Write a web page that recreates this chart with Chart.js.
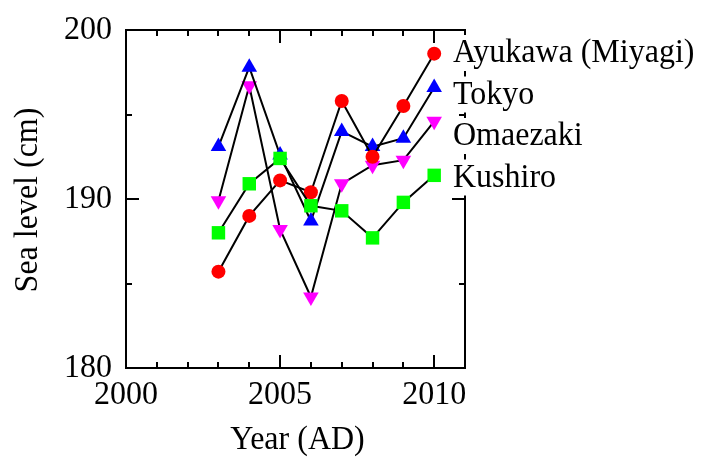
<!DOCTYPE html>
<html>
<head>
<meta charset="utf-8">
<script src="https://cdn.jsdelivr.net/npm/chart.js@4/dist/chart.umd.min.js"></script>
<style>
  html, body { margin: 0; padding: 0; background: #fff; }
  #wrap { width: 703px; height: 461px; }
</style>
</head>
<body>
<div id="wrap"><canvas id="c" width="703" height="461"></canvas></div>
<script>
// Annual mean sea level at four tide stations
const years    = [2003, 2004, 2005, 2006, 2007, 2008, 2009, 2010];
const ayukawa  = [185.7, 189.0, 191.1, 190.4, 195.8, 192.5, 195.5, 198.6];
const tokyo    = [193.1, 197.8, 192.6, 188.7, 194.0, 193.1, 193.6, 196.6];
const omaezaki = [189.9, 196.7, 188.2, 184.2, 190.9, 192.0, 192.3, 194.6];
const kushiro  = [188.0, 190.9, 192.4, 189.6, 189.3, 187.7, 189.8, 191.4];
const stationNames = ['Ayukawa (Miyagi)', 'Tokyo', 'Omaezaki', 'Kushiro'];
const xTickLabels = [2000, 2005, 2010];
const yTickLabels = [180, 190, 200];
const xTitle = 'Year (AD)';
const yTitle = 'Sea level (cm)';

const SERIF = "'Liberation Serif', 'Times New Roman', serif";
const FONT = '32px ' + SERIF;
const TALL = 1.08;   // slightly tall lettering

const toPoints = vals => years.map((yr, i) => ({ x: yr, y: vals[i] }));

function series(label, vals, style, color, radius, rotation, order) {
  return {
    label,
    data: toPoints(vals),
    borderColor: '#000',
    borderWidth: 2,
    pointStyle: style,
    pointRadius: radius,
    pointHoverRadius: radius,
    pointRotation: rotation,
    pointBackgroundColor: color,
    pointBorderWidth: 0,
    pointBorderColor: color,
    tension: 0,
    order
  };
}

function text(ctx, str, x, y, align, rot) {
  ctx.save();
  ctx.translate(x, y);
  if (rot) ctx.rotate(rot);
  ctx.scale(1, TALL);
  ctx.font = FONT;
  ctx.fillStyle = '#000';
  ctx.textAlign = align;
  ctx.textBaseline = 'middle';
  ctx.fillText(str, 0, 0);
  ctx.restore();
}

// Box frame with inward major/minor ticks on all four sides
const framePlugin = {
  id: 'frame',
  beforeDatasetsDraw(chart) {
    const { ctx, chartArea: a, scales: { x, y } } = chart;
    ctx.save();
    ctx.strokeStyle = '#000';
    ctx.lineWidth = 2;
    ctx.strokeRect(a.left, a.top, a.right - a.left, a.bottom - a.top);
    ctx.beginPath();
    for (let yr = Math.ceil(x.min) + 1; yr < x.max; yr++) {
      const px = Math.round(x.getPixelForValue(yr));
      const len = yr % 5 === 0 ? 13 : 6;
      ctx.moveTo(px, a.bottom); ctx.lineTo(px, a.bottom - len);
      ctx.moveTo(px, a.top);    ctx.lineTo(px, a.top + len);
    }
    for (let v = y.min + 5; v < y.max; v += 5) {
      const py = Math.round(y.getPixelForValue(v));
      const len = v % 10 === 0 ? 13 : 6;
      ctx.moveTo(a.left, py);  ctx.lineTo(a.left + len, py);
      ctx.moveTo(a.right, py); ctx.lineTo(a.right - len, py);
    }
    ctx.stroke();

    // tick labels and axis titles
    xTickLabels.forEach(v => text(ctx, String(v), x.getPixelForValue(v), a.bottom + 27, 'center'));
    yTickLabels.forEach(v => text(ctx, String(v), a.left - 14, y.getPixelForValue(v), 'right'));
    text(ctx, xTitle, (a.left + a.right) / 2 + 2, a.bottom + 72, 'center');
    text(ctx, yTitle, 28, (a.top + a.bottom) / 2 + 1, 'center', -Math.PI / 2);
    ctx.restore();
  }
};

// Station names listed beside the 2010 values, on white boxes
const namesPlugin = {
  id: 'names',
  afterDatasetsDraw(chart) {
    const { ctx, chartArea: a } = chart;
    ctx.save();
    ctx.font = FONT;
    stationNames.forEach((name, i) => {
      const tx = a.right - 12;
      const ty = a.top + 23 + i * 41.5;
      const w = ctx.measureText(name).width;
      ctx.fillStyle = '#fff';
      ctx.fillRect(tx - 5, ty - 18, w + 8, 36);
      text(ctx, name, tx, ty, 'left');
    });
    ctx.restore();
  }
};

new Chart(document.getElementById('c'), {
  type: 'line',
  data: {
    datasets: [
      series(stationNames[0], ayukawa,  'circle',   '#ff0000', 7,   0,   1),
      series(stationNames[1], tokyo,    'triangle', '#0000ff', 9,   0,   2),
      series(stationNames[2], omaezaki, 'triangle', '#ff00ff', 9,   180, 3),
      series(stationNames[3], kushiro,  'rect',     '#00ff00', 9.5, 0,   0)
    ]
  },
  options: {
    responsive: false,
    devicePixelRatio: 1,
    animation: false,
    events: [],
    layout: { padding: { top: 30, right: 238, left: 0, bottom: 0 } },
    plugins: { legend: { display: false }, tooltip: { enabled: false } },
    scales: {
      x: {
        type: 'linear',
        min: 2000,
        max: 2011,
        grid: { display: false },
        border: { display: false },
        ticks: { display: false },
        afterFit: s => { s.height = 93; }
      },
      y: {
        min: 180,
        max: 200,
        grid: { display: false },
        border: { display: false },
        ticks: { display: false },
        afterFit: s => { s.width = 126; }
      }
    }
  },
  plugins: [framePlugin, namesPlugin]
});
</script>
</body>
</html>
